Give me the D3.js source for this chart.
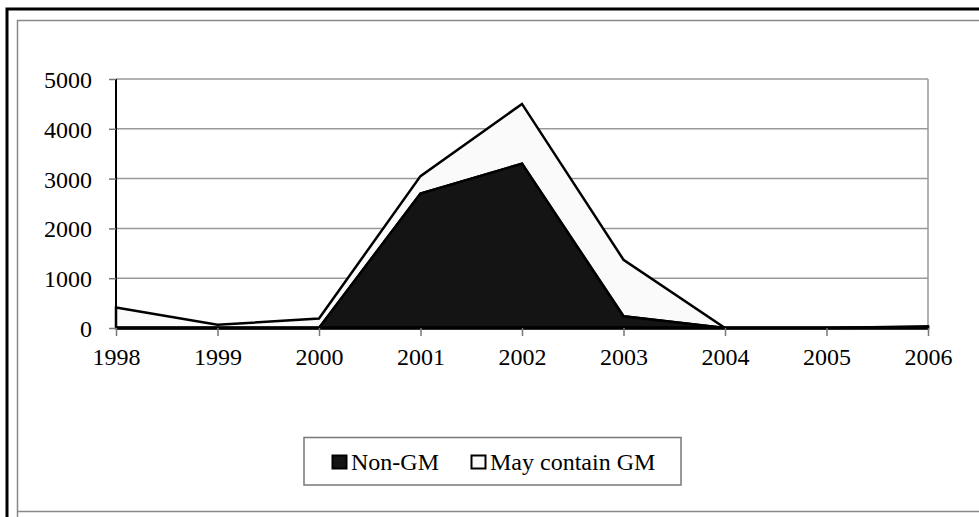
<!DOCTYPE html>
<html>
<head>
<meta charset="utf-8">
<script src="https://cdn.jsdelivr.net/npm/d3@7"></script>
<style>
	body { margin: 0; background: #fff; }
</style>
</head>
<body>
<div id="container"></div>
<script>
var years = ["1998", "1999", "2000", "2001", "2002", "2003", "2004", "2005", "2006"];
var nonGM = [0, 0, 0, 2700, 3300, 235, 0, 0, 15];
var mayContainGM = [410, 65, 190, 350, 1200, 1135, 0, 0, 20];
var yTicks = [0, 1000, 2000, 3000, 4000, 5000];
var seriesNames = ["Non-GM", "May contain GM"];

var w = 979,
	h = 517,
	plotLeft = 116, plotRight = 928, plotTop = 79, plotBottom = 328;

function serif(sel) { //Times-like labels
	sel.style("font-family", "Liberation Serif")
		.style("font-size", "24px")
		.attr("fill", "#000");
}

var svg = d3.select("div#container").append("svg")
	.attr("width", w)
	.attr("height", h);

// frames
svg.append("path") //thick black frame on left and top only
	.attr("d", "M7,517 V9 H979")
	.attr("fill", "none").attr("stroke", "#000").attr("stroke-width", 3);
svg.append("path") //inner grey frame
	.attr("d", "M17.5,517 V20.5 H979 M17.5,511.5 H979")
	.attr("fill", "none").attr("stroke", "#888").attr("stroke-width", 1.5);

var x = d3.scalePoint().domain(years).range([plotLeft, plotRight]);
var y = d3.scaleLinear().domain([0, 5000]).range([plotBottom, plotTop]);

// grid lines
svg.append("g").selectAll("line")
	.data(yTicks.filter(function(d) { return d > 0; }))
	.enter().append("line")
	.attr("x1", plotLeft).attr("x2", plotRight)
	.attr("y1", function(d) { return y(d); })
	.attr("y2", function(d) { return y(d); })
	.attr("stroke", "#999").attr("stroke-width", 1.5);
svg.append("line") //right border of plot area
	.attr("x1", plotRight).attr("x2", plotRight)
	.attr("y1", plotTop).attr("y2", plotBottom)
	.attr("stroke", "#999").attr("stroke-width", 1.5);

// stacked areas
var data = years.map(function(yr, i) {
	return { year: yr, a: nonGM[i], b: mayContainGM[i] };
});
var stack = d3.stack().keys(["a", "b"]);
var layers = stack(data);
var fills = ["#141414", "#fafafa"];

var area = d3.area()
	.x(function(d) { return x(d.data.year); })
	.y0(function(d) { return y(d[0]); })
	.y1(function(d) { return y(d[1]); });

svg.append("g").selectAll("path")
	.data(layers.slice().reverse())
	.enter().append("path")
	.attr("d", area)
	.attr("fill", function(d) { return fills[d.index]; })
	.attr("stroke", "#000")
	.attr("stroke-width", 2.5)
	.attr("stroke-linejoin", "miter");

// y axis
var yAxis = d3.axisLeft(y).tickValues(yTicks).tickSize(7).tickPadding(17).tickFormat(d3.format("d"));
var gy = svg.append("g").attr("transform", "translate(" + plotLeft + ",0)").call(yAxis);
gy.select(".domain").attr("stroke", "#000").attr("stroke-width", 2).attr("d", "M0," + plotTop + "V" + plotBottom);
gy.selectAll(".tick line").attr("stroke", "#777").attr("stroke-width", 1.5);
gy.selectAll(".tick text").call(serif).attr("dy", "0.35em");

// x axis
var xAxis = d3.axisBottom(x).tickSize(8).tickPadding(12);
var gx = svg.append("g").attr("transform", "translate(0," + plotBottom + ")").call(xAxis);
gx.select(".domain").attr("stroke", "#000").attr("stroke-width", 3.5).attr("d", "M" + plotLeft + ",0H" + plotRight);
gx.selectAll(".tick line").attr("stroke", "#777").attr("stroke-width", 1.5);
gx.selectAll(".tick text").call(serif);

// legend
var legend = svg.append("g");
legend.append("rect")
	.attr("x", 304).attr("y", 437.5).attr("width", 377).attr("height", 47.5)
	.attr("fill", "#fff").attr("stroke", "#777").attr("stroke-width", 1.5);
var legendX = [332, 471];
seriesNames.forEach(function(name, i) {
	legend.append("rect")
		.attr("x", legendX[i] + 0.5).attr("y", 455.5).attr("width", 14).attr("height", 13)
		.attr("fill", fills[i]).attr("stroke", "#000").attr("stroke-width", 2);
	legend.append("text")
		.attr("x", legendX[i] + 19).attr("y", 470)
		.call(serif)
		.text(name);
});
</script>
</body>
</html>
